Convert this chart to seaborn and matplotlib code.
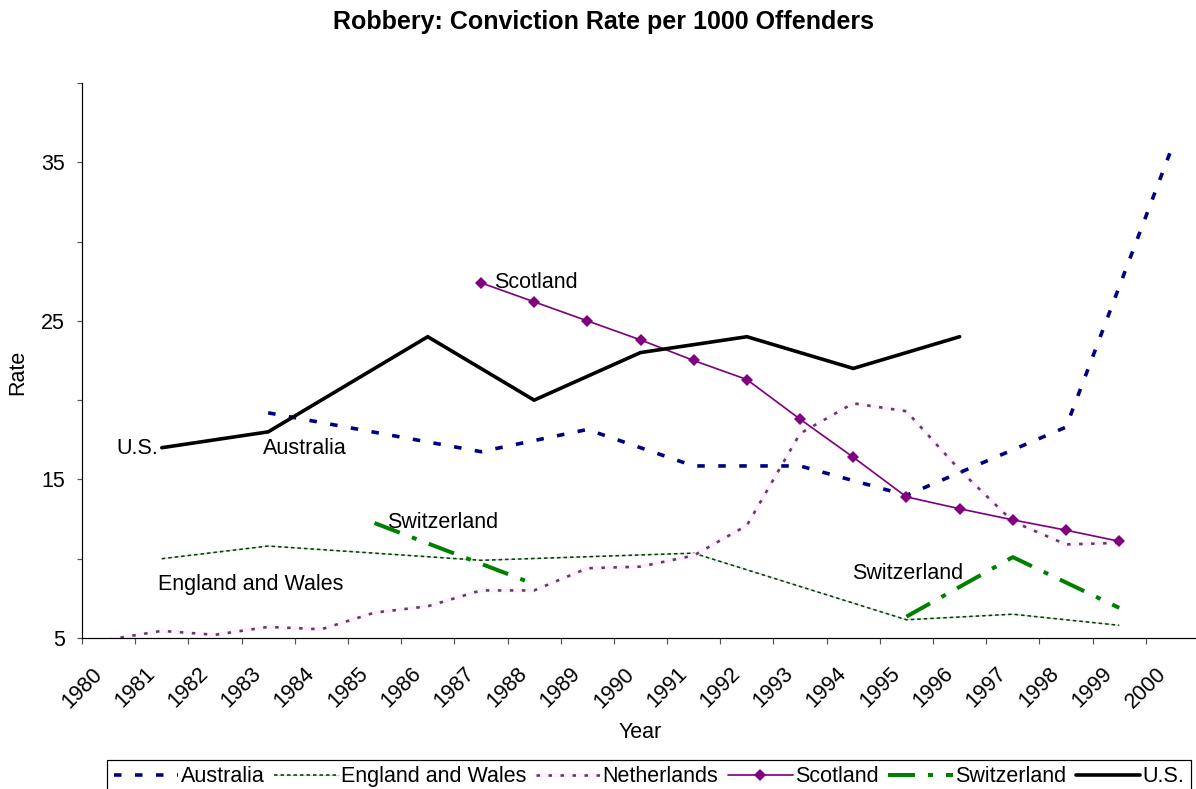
import matplotlib
matplotlib.use("Agg")
import matplotlib.pyplot as plt
import seaborn as sns
import pandas as pd
from matplotlib.lines import Line2D

# ---------------- data ----------------
years = list(range(1980, 2001))

australia_years = [1983, 1987, 1989, 1991, 1993, 1995, 1998, 2000]
australia_vals = [19.2, 16.75, 18.15, 15.85, 15.85, 14.0, 18.3, 36.0]

england_years = [1981, 1983, 1987, 1991, 1995, 1997, 1999]
england_vals = [10.0, 10.8, 9.9, 10.35, 6.15, 6.5, 5.8]

netherlands_years = list(range(1980, 2000))
netherlands_vals = [4.9, 5.45, 5.2, 5.7, 5.55, 6.6, 7.0, 8.0, 8.0, 9.4,
                    9.5, 10.2, 12.1, 17.9, 19.8, 19.3, 15.6, 12.35, 10.9, 11.0]

scotland_years = list(range(1987, 2000))
scotland_vals = [27.4, 26.2, 25.0, 23.8, 22.5, 21.3, 18.8, 16.4, 13.9,
                 13.15, 12.45, 11.8, 11.1]

switzerland_years = [1985, 1988, 1995, 1997, 1999]
switzerland_vals = [12.25, 8.4, 6.35, 10.1, 6.9]
switzerland_segment = [1, 1, 2, 2, 2]

us_years = [1981, 1983, 1986, 1988, 1990, 1992, 1994, 1996]
us_vals = [17.0, 18.0, 24.0, 20.0, 23.0, 24.0, 22.0, 24.0]

series_names = ["Australia", "England and Wales", "Netherlands", "Scotland",
                "Switzerland", "U.S."]
y_ticks = [5, 10, 15, 20, 25, 30, 35, 40]
y_ticklabels = ["5", "", "15", "", "25", "", "35", ""]

# ---------------- style ----------------
sns.set_theme(style="ticks")
plt.rcParams["font.family"] = ["Liberation Sans", "DejaVu Sans"]
plt.rcParams["text.color"] = "black"
plt.rcParams["axes.labelcolor"] = "black"
FS = 15.5
PT = 72 / 100.0  # points per pixel at dpi 100

fig = plt.figure(figsize=(11.96, 7.89), dpi=100)
ax = fig.add_axes([82 / 1196, 151 / 789, 1117 / 1196, 555 / 789])


def dash(lw_px, *seq_px):
    return (0, tuple(s / lw_px for s in seq_px))


def draw(yrs, vals, units=None, **kw):
    df = pd.DataFrame({"x": [y - 1980 + 0.5 for y in yrs], "v": vals})
    extra = {}
    if units is not None:
        df["u"] = units
        extra["units"] = "u"
    sns.lineplot(data=df, x="x", y="v", ax=ax, estimator=None, sort=False,
                 legend=False, **extra, **kw)


AUS = dict(color="#000080", lw=3.6 * PT, linestyle=dash(3.6, 7.5, 13.5),
           dash_capstyle="butt")
EW_BASE = dict(color="#c4e4c4", lw=1.2 * PT, linestyle="-")
EW_TOP = dict(color="#0b3d0b", lw=1.6 * PT, linestyle=dash(1.6, 3.5, 3.0))
NL_BASE = dict(color="#fff0ff", lw=4.0 * PT, linestyle="-",
               solid_joinstyle="round")
NL_TOP = dict(color="#5e3f5e", lw=2.6 * PT, linestyle=dash(2.6, 3.5, 8.5))
SCO = dict(color="#800080", lw=1.7 * PT, linestyle="-", marker="D",
           markersize=6.0, markeredgewidth=0, markerfacecolor="#800080")
SWI = dict(color="#008000", lw=4.0 * PT,
           linestyle=dash(4.0, 27, 13, 5, 13), dash_capstyle="butt")
US = dict(color="black", lw=3.6 * PT, linestyle="-", solid_joinstyle="miter")

draw(england_years, england_vals, **EW_BASE)
draw(england_years, england_vals, **EW_TOP)
draw(netherlands_years, netherlands_vals, **NL_BASE)
draw(netherlands_years, netherlands_vals, **NL_TOP)
draw(australia_years, australia_vals, **AUS)
draw(switzerland_years, switzerland_vals, units=switzerland_segment, **SWI)
draw(scotland_years, scotland_vals, **SCO)
draw(us_years, us_vals, **US)

# ---------------- axes ----------------
ax.set_xlim(0, 21)
ax.set_ylim(5, 40)
ax.set_xticks(range(len(years)))
ax.set_xticklabels([str(y) for y in years], rotation=45, ha="center",
                   fontsize=FS, color="black")
ax.set_yticks(y_ticks)
ax.set_yticklabels(y_ticklabels, fontsize=FS, color="black")
ax.tick_params(axis="x", length=6 * PT, width=1.2 * PT, color="#555555",
               labelcolor="black", pad=14, direction="out")
ax.tick_params(axis="y", length=5 * PT, width=1.2 * PT, color="#555555",
               labelcolor="black", pad=8.5, direction="out")
for s in ("top", "right"):
    ax.spines[s].set_visible(False)
for s in ("left", "bottom"):
    ax.spines[s].set_color("black")
    ax.spines[s].set_linewidth(1.2 * PT)
ax.set_xlabel("")
ax.set_ylabel("")
ax.set_facecolor("white")

# ---------------- in-plot labels ----------------
def px2data(px, py):
    return (px - 82) / 53.2, 5 + (638 - py) / 15.83

labels = [
    ("Scotland", 494, 283, "left"),
    ("U.S.", 158, 449, "right"),
    ("Australia", 263, 449, "left"),
    ("Switzerland", 387, 523, "left"),
    ("England and Wales", 158, 585, "left"),
    ("Switzerland", 852, 574, "left"),
]
for txt, px, py, ha in labels:
    xd, yd = px2data(px, py)
    ax.text(xd, yd, txt, ha=ha, va="center", fontsize=FS, color="black")

# ---------------- titles ----------------
fig.text(603 / 1196, 1 - 22 / 789, "Robbery: Conviction Rate per 1000 Offenders",
         ha="center", va="center", fontsize=18, fontweight="bold",
         color="black")
fig.text(640 / 1196, 1 - 733 / 789, "Year", ha="center", va="center",
         fontsize=FS, color="black")
fig.text(18 / 1196, 1 - 372 / 789, "Rate", ha="center", va="center",
         rotation=90, fontsize=FS, color="black")

# ---------------- legend ----------------
h_aus = Line2D([], [], **AUS)
h_ew = (Line2D([], [], **EW_BASE), Line2D([], [], **EW_TOP))
h_nl = (Line2D([], [], **NL_BASE), Line2D([], [], **NL_TOP))
h_sco = Line2D([], [], **SCO)
h_swi = Line2D([], [], **SWI)
h_us = Line2D([], [], **US)
leg = fig.legend([h_aus, h_ew, h_nl, h_sco, h_swi, h_us], series_names,
                 loc="upper center", bbox_to_anchor=(649 / 1196, 1 - 760 / 789),
                 ncol=6, frameon=True, fancybox=False, shadow=False,
                 edgecolor="black", framealpha=1, fontsize=FS,
                 handlelength=3.0, handletextpad=0.1, columnspacing=0.45,
                 borderpad=0.3, borderaxespad=0, markerscale=1.0)
leg.get_frame().set_linewidth(1.2 * PT)
for t in leg.get_texts():
    t.set_color("black")

fig.savefig("out.png", dpi=100, facecolor="white")
